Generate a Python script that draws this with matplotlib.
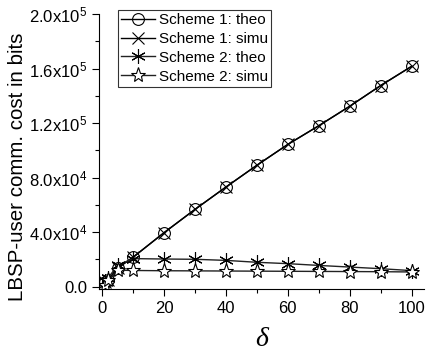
import matplotlib
matplotlib.use('Agg')
import matplotlib.pyplot as plt
from matplotlib.ticker import FuncFormatter, MultipleLocator

plt.rcParams['font.family'] = ['Liberation Sans', 'DejaVu Sans']
plt.rcParams['mathtext.fontset'] = 'custom'
plt.rcParams['mathtext.rm'] = 'Liberation Sans'
plt.rcParams['mathtext.default'] = 'regular'

delta = [1, 2, 5, 10, 20, 30, 40, 50, 60, 70, 80, 90, 100]
s1_theo = [3.0e3, 5.0e3, 1.35e4, 2.15e4, 3.95e4, 5.66e4, 7.3e4, 8.9e4, 1.043e5, 1.18e5, 1.323e5, 1.475e5, 1.616e5]
s1_simu = [3.0e3, 5.0e3, 1.35e4, 2.15e4, 3.95e4, 5.66e4, 7.3e4, 8.9e4, 1.043e5, 1.18e5, 1.323e5, 1.475e5, 1.616e5]
s2_theo = [4.0e3, 6.5e3, 1.55e4, 2.05e4, 2.02e4, 2.0e4, 1.92e4, 1.78e4, 1.68e4, 1.55e4, 1.43e4, 1.31e4, 1.17e4]
s2_simu = [1.5e3, 4.5e3, 1.2e4, 1.18e4, 1.16e4, 1.15e4, 1.14e4, 1.13e4, 1.12e4, 1.11e4, 1.1e4, 1.09e4, 1.07e4]

fig = plt.figure(figsize=(4.26, 3.56), dpi=100)
ax = fig.add_axes([99 / 426, 67 / 356, 325 / 426, 275 / 356])

ax.plot(delta, s1_theo, '-', color='black', lw=1, marker='o', ms=8.5,
        mfc='none', mec='black', mew=0.8, label='Scheme 1: theo')
ax.plot(delta, s1_simu, '-', color='black', lw=1, marker='x', ms=8.5,
        mec='black', mew=0.8, label='Scheme 1: simu')
ax.plot(delta, s2_theo, '-', color='#222222', lw=1, marker=(6, 2, 0), ms=10.5,
        mec='black', mew=0.8, label='Scheme 2: theo')
ax.plot(delta, s2_simu, '-', color='#222222', lw=1, marker='*', ms=11,
        mfc='white', mec='black', mew=0.8, label='Scheme 2: simu')

ax.set_xlim(-1, 104)
ax.set_ylim(-1.8e3, 2.0e5)
ax.xaxis.set_major_locator(MultipleLocator(20))
ax.xaxis.set_minor_locator(MultipleLocator(10))
ax.yaxis.set_major_locator(MultipleLocator(4e4))
ax.yaxis.set_minor_locator(MultipleLocator(2e4))


def sci(v, pos):
    if v == 0:
        return '0.0'
    e = len(str(int(v))) - 1
    return '{:.1f}x10$^{{{}}}$'.format(v / 10 ** e, e)


ax.yaxis.set_major_formatter(FuncFormatter(sci))
ax.spines['top'].set_visible(False)
ax.spines['right'].set_visible(False)
ax.tick_params(which='major', direction='out', length=5, width=0.8, labelsize=12)
ax.tick_params(which='minor', direction='out', length=3, width=0.8)

ax.set_ylabel('LBSP-user comm. cost in bits', fontsize=14.8)
ax.yaxis.set_label_coords(-0.222, 0.445)
ax.set_xlabel('δ', fontsize=20, family='Liberation Serif', style='italic', labelpad=8)

leg = ax.legend(loc='upper left', bbox_to_anchor=(118 / 426, 1 - 10 / 356),
                bbox_transform=fig.transFigure, fontsize=11, frameon=True,
                fancybox=False, borderaxespad=0, handlelength=2.2,
                handletextpad=0.3, labelspacing=0.32, borderpad=0.2)
leg.get_frame().set_edgecolor('black')
leg.get_frame().set_linewidth(0.8)

fig.savefig('out.png', dpi=100)
